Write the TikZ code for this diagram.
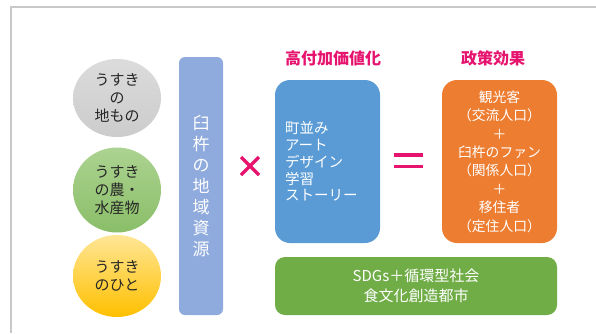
\documentclass[tikz,border=0pt]{standalone}
\usepackage{fontspec}
\setmainfont{Noto Sans CJK JP}
\usetikzlibrary{shapes.geometric}
\definecolor{framec}{HTML}{C8C8C8}
\definecolor{barblue}{HTML}{8FAADC}
\definecolor{boxblue}{HTML}{5B9BD5}
\definecolor{boxorange}{HTML}{ED7D31}
\definecolor{boxgreen}{HTML}{70AD47}
\definecolor{pinkc}{HTML}{E6146E}
\definecolor{darktext}{HTML}{262626}
\tikzset{
  circ/.style={ellipse, minimum width=88pt, inner sep=0pt, align=center,
    text=darktext, font=\fontsize{15}{18}\selectfont},
  panel/.style={rounded corners=#1, inner sep=0pt, text=white},
  title/.style={text=pinkc, font=\fontsize{16}{18}\selectfont\bfseries},
  sym/.style={draw=pinkc, line width=3.2pt}
}
\begin{document}
\begin{tikzpicture}[x=1pt,y=-1pt]
\useasboundingbox (0,0) rectangle (596,333);
\draw[framec, line width=1.5pt] (11,333) -- (11,7) -- (596,7);

% circles
\node[circ, minimum height=78pt, top color=gray!28, bottom color=gray!40] (c1) at (117,98) {うすき\\の\\地もの};
\node[circ, minimum height=85pt, top color={rgb,255:red,172;green,211;blue,145}, bottom color={rgb,255:red,138;green,190;blue,104}] (c2) at (117,190) {うすき\\の農・\\水産物};
\node[circ, minimum height=82pt, top color={rgb,255:red,255;green,230;blue,150}, bottom color={rgb,255:red,255;green,192;blue,0}] (c3) at (117,276) {うすき\\のひと};

% resource bar
\node[panel=6pt, fill=barblue, minimum width=44pt, minimum height=258pt, align=center,
  font=\fontsize{17}{21}\selectfont] (bar) at (201,186) {臼\\杵\\の\\地\\域\\資\\源};

% times
\coordinate (t1) at (241,157);
\coordinate (t2) at (259,175);
\coordinate (t3) at (241,175);
\coordinate (t4) at (259,157);
\draw[sym] (t1) -- (t2);
\draw[sym] (t3) -- (t4);

% title 1 and blue box
\node[title] (ttl1) at (333,58) {高付加価値化};
\node[panel=15pt, fill=boxblue, minimum width=105pt, minimum height=163pt,
  text width=85pt, align=left, font=\fontsize{14.5}{16.8}\selectfont] (blue) at (327.5,161.5)
  {町並み\\アート\\デザイン\\学習\\ストーリー};

% equals
\coordinate (e1) at (394,155);
\coordinate (e2) at (423,155);
\coordinate (e3) at (394,166.5);
\coordinate (e4) at (423,166.5);
\draw[sym, line width=3.6pt] (e1) -- (e2);
\draw[sym, line width=3.6pt] (e3) -- (e4);

% title 2 and orange box
\node[title] (ttl2) at (493,58) {政策効果};
\node[panel=15pt, fill=boxorange, minimum width=115pt, minimum height=163pt,
  align=center, font=\fontsize{13.8}{18.4}\selectfont] (orange) at (499.5,161.5)
  {観光客\\（交流人口）\\＋\\臼杵のファン\\（関係人口）\\＋\\移住者\\（定住人口）};

% green box
\node[panel=10pt, fill=boxgreen, minimum width=282pt, minimum height=58pt,
  align=center, font=\fontsize{15}{20}\selectfont] (green) at (416,286)
  {SDGs＋循環型社会\\食文化創造都市};
\end{tikzpicture}
\end{document}
